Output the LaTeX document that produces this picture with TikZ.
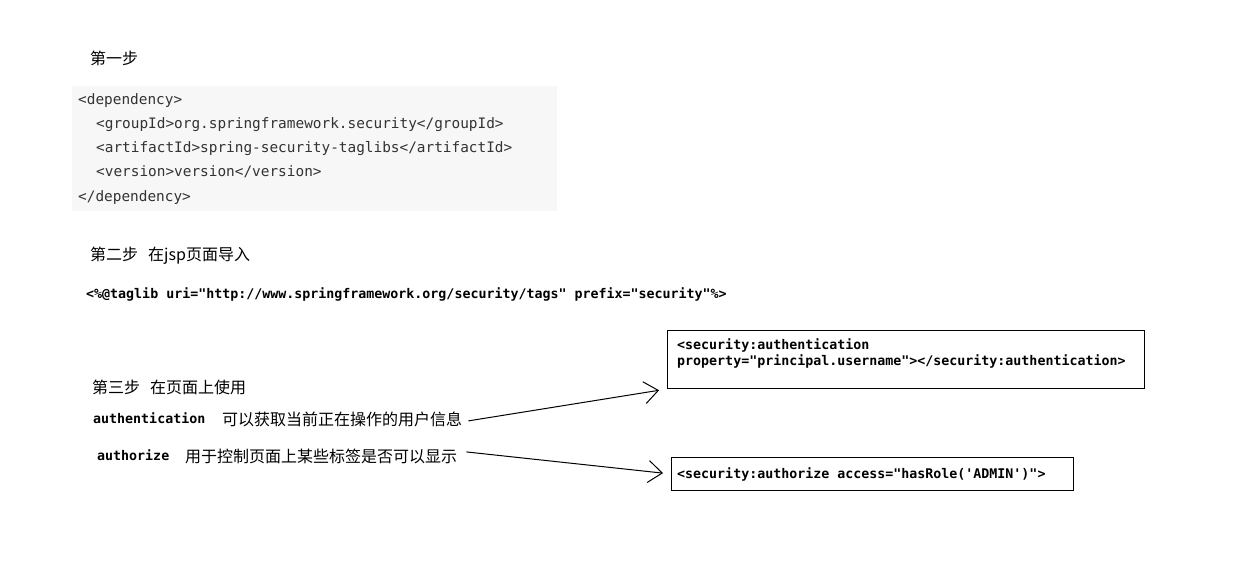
\documentclass[tikz,border=0pt]{standalone}
\usepackage{fontspec}
\usetikzlibrary{arrows.meta}
\newfontfamily\cjkfont{Noto Sans CJK SC}
\newfontfamily\codefont{DejaVu Sans Mono}
\newfontfamily\monobold{DejaVu Sans Mono}
\definecolor{codegray}{HTML}{333333}
\definecolor{codebg}{HTML}{F7F7F7}
\tikzset{
  cjktext/.style={font=\cjkfont\fontsize{16}{16}\selectfont, anchor=base west, inner sep=0},
  codetext/.style={font=\codefont\fontsize{14.4}{24}\selectfont, text=codegray, anchor=base west, inner sep=0},
  monotext/.style={font=\monobold\bfseries\fontsize{13.3}{16}\selectfont, anchor=base west, inner sep=0},
  codebox/.style={draw=black, line width=1pt, anchor=north west, inner sep=0},
  conn/.style={line width=1pt, -{Straight Barb[length=14pt,width=22pt,line width=1pt]}, shorten >=8pt}
}
\begin{document}
\begin{tikzpicture}[x=1pt,y=-1pt]
\useasboundingbox (0,0) rectangle (1253,577);
% step 1
\node[cjktext] (step1) at (90,65) {第一步};
\node[fill=codebg, inner sep=0, minimum width=485pt, minimum height=125pt, anchor=north west] (bg) at (72,86) {};
\node[codetext] (l1) at (78,105) {<dependency>};
\node[codetext] (l2) at (96,129) {<groupId>org.springframework.security</groupId>};
\node[codetext] (l3) at (96,153) {<artifactId>spring-security-taglibs</artifactId>};
\node[codetext] (l4) at (96,177) {<version>version</version>};
\node[codetext] (l5) at (78,202) {</dependency>};
% step 2
\node[cjktext] (step2) at (90,261) {第二步\hspace{10pt}在jsp页面导入};
\node[monotext] (taglib) at (86,299) {<\%@taglib uri="http://www.springframework.org/security/tags" prefix="security"\%>};
% step 3
\node[cjktext] (step3) at (92,393) {第三步\hspace{10pt}在页面上使用};
\node[monotext] (auth) at (93,423) {authentication};
\node[cjktext] (desc1) at (222,425) {可以获取当前正在操作的用户信息};
\node[monotext] (authz) at (97,460) {authorize};
\node[cjktext] (desc2) at (185,462) {用于控制页面上某些标签是否可以显示};
% boxes
\node[codebox, minimum width=477pt, minimum height=58pt] (box1) at (667,330) {};
\node[monotext, anchor=north west, align=left] (box1text) at (677,338) {<security:authentication\\property="principal.username"></security:authentication>};
\node[codebox, minimum width=402pt, minimum height=33pt] (box2) at (671,457) {};
\node[monotext] (box2text) at (677,478) {<security:authorize access="hasRole('ADMIN')">};
% connectors
\draw[conn] ([shift={(6,2)}]desc1.east) -- (box1.south west);
\draw[conn] ([shift={(9,-4)}]desc2.east) -- (box2.west);
\end{tikzpicture}
\end{document}
